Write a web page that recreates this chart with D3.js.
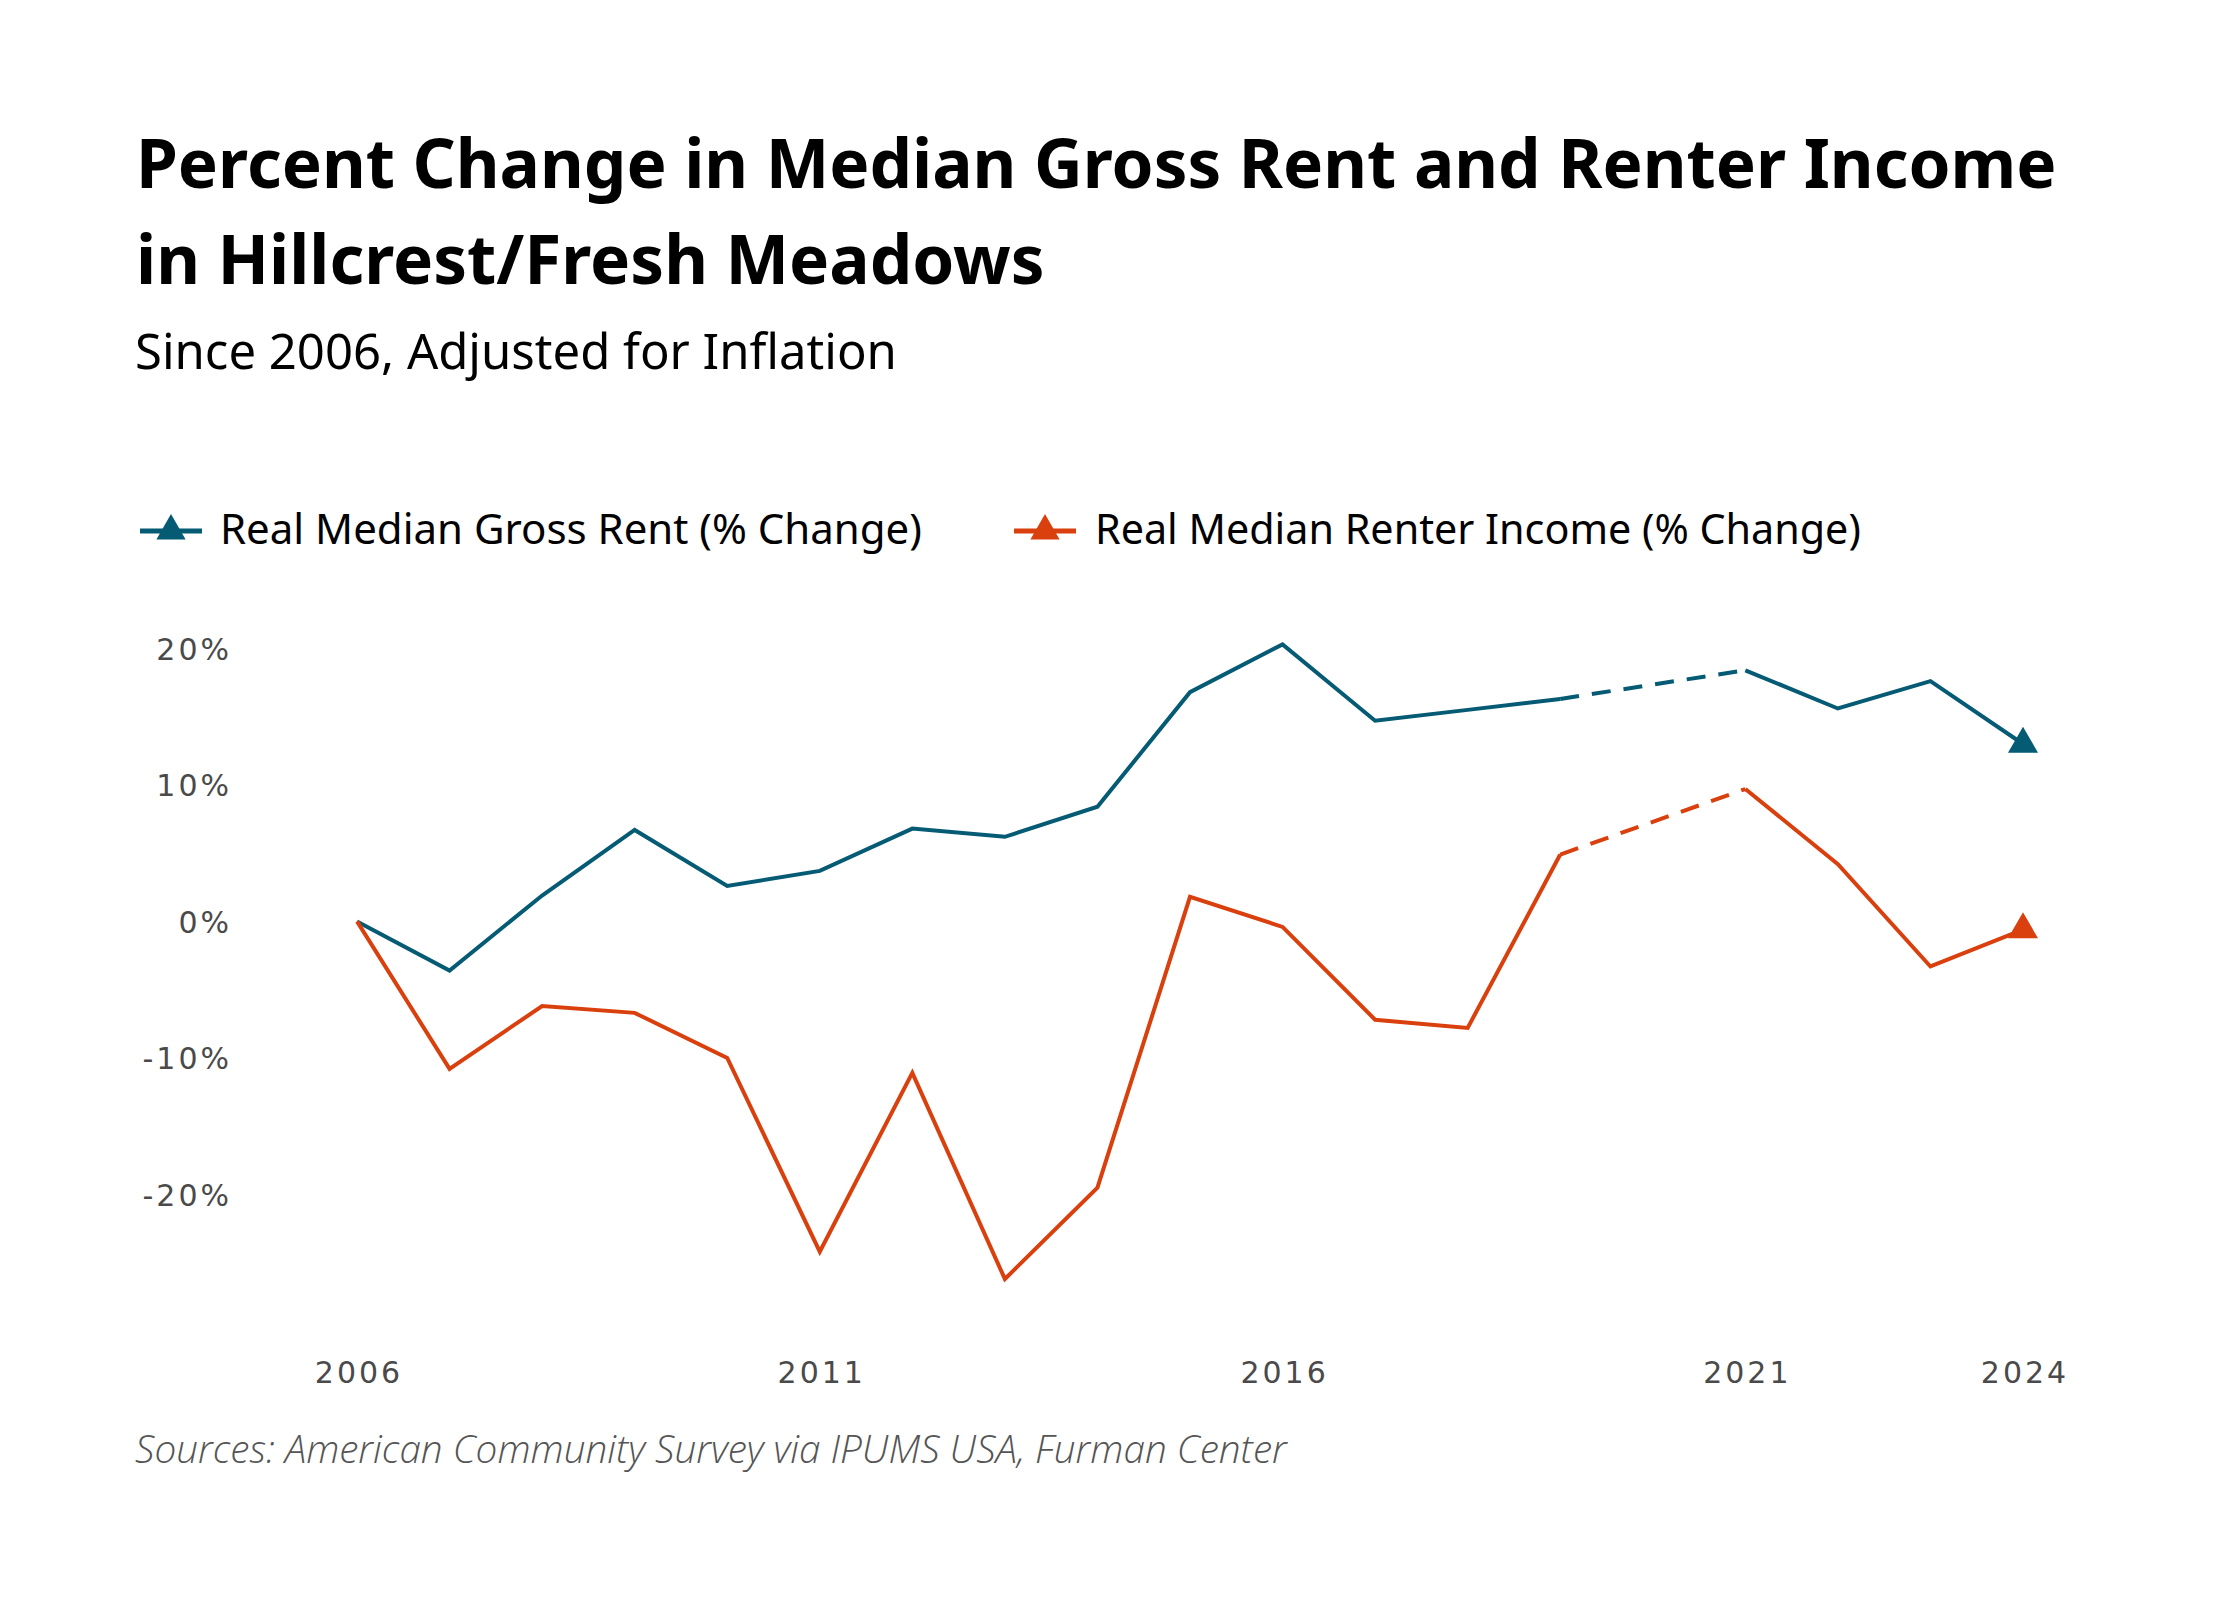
<!DOCTYPE html>
<html>
<head>
<meta charset="utf-8">
<script src="https://cdn.jsdelivr.net/npm/d3@7"></script>
<style>
  body { margin: 0; background: #fff; }
  svg { display: block; }
</style>
</head>
<body>
<svg id="chart" width="2240" height="1600"></svg>
<script>
// years with data (2020 is missing, bridged by a dashed segment)
const years = [2006, 2007, 2008, 2009, 2010, 2011, 2012, 2013, 2014, 2015, 2016, 2017, 2018, 2019, 2021, 2022, 2023, 2024]
const rentChange = [0, -3.6, 1.9, 6.7, 2.6, 3.7, 6.8, 6.2, 8.4, 16.8, 20.3, 14.7, 15.5, 16.3, 18.4, 15.6, 17.6, 13.0]
const incomeChange = [0, -10.8, -6.2, -6.7, -10.0, -24.2, -11.1, -26.2, -19.5, 1.8, -0.4, -7.2, -7.8, 4.9, 9.7, 4.2, -3.3, -0.6]

const seriesNames = ['Real Median Gross Rent (% Change)', 'Real Median Renter Income (% Change)']
const seriesColors = ['#055a74', '#d9400e']
const xTicks = [2006, 2011, 2016, 2021, 2024]
const yTicks = [20, 10, 0, -10, -20]

const titleLines = ['Percent Change in Median Gross Rent and Renter Income', 'in Hillcrest/Fresh Meadows']
const subtitle = 'Since 2006, Adjusted for Inflation'
const source = 'Sources: American Community Survey via IPUMS USA, Furman Center'

function drawChart() {
  const svg = d3.select('#chart')

  // shrink/grow a text's font size so it spans a given width
  function fitWidth(sel, target) {
    const fs = parseFloat(sel.style('font-size'))
    const w = sel.node().getComputedTextLength()
    sel.style('font-size', (fs * target / w) + 'px')
    return sel
  }

  // titles
  const t1 = svg.append('text')
    .attr('x', 136).attr('y', 188)
    .style('font-family', '"Noto Sans", "Open Sans", sans-serif')
    .style('font-weight', 700)
    .style('font-size', '64px')
    .attr('fill', '#000')
    .text(titleLines[0])
  fitWidth(t1, 1921)
  const titleSize = t1.style('font-size')

  svg.append('text')
    .attr('x', 136).attr('y', 284)
    .style('font-family', '"Noto Sans", "Open Sans", sans-serif')
    .style('font-weight', 700)
    .style('font-size', titleSize)
    .attr('fill', '#000')
    .text(titleLines[1])

  const sub = svg.append('text')
    .attr('x', 135).attr('y', 369)
    .style('font-family', '"Noto Sans", "Open Sans", sans-serif')
    .style('font-size', '46px')
    .attr('fill', '#000')
    .text(subtitle)
  fitWidth(sub, 762)

  // scales
  const x = d3.scaleLinear().domain([2006, 2024]).range([357, 2023])
  const y = d3.scaleLinear().domain([-30, 25]).range([1330.9, 580.2])

  const axisFont = '"DejaVu Sans", Lato, sans-serif'

  const yAxis = svg.append('g')
    .attr('transform', 'translate(232,0)')
    .call(d3.axisLeft(y).tickValues(yTicks).tickSize(0).tickPadding(0).tickFormat(d => d + '%'))
  yAxis.select('.domain').remove()
  yAxis.selectAll('text')
    .style('font-family', axisFont)
    .style('font-size', '30px')
    .style('letter-spacing', '3px')
    .attr('fill', '#4a4a4a')
    .attr('dy', '0.36em')

  const xAxis = svg.append('g')
    .attr('transform', 'translate(1.5,1383)')
    .call(d3.axisBottom(x).tickValues(xTicks).tickSize(0).tickPadding(0).tickFormat(d3.format('d')))
  xAxis.select('.domain').remove()
  xAxis.selectAll('text')
    .style('font-family', axisFont)
    .style('font-size', '30px')
    .style('letter-spacing', '3px')
    .attr('fill', '#4a4a4a')
    .attr('dy', 0)

  const lineMkr = d3.line()
    .x(d => x(d.year))
    .y(d => y(d.value))

  const series = [rentChange, incomeChange].map((vals, i) => ({
    name: seriesNames[i],
    color: seriesColors[i],
    points: years.map((yr, j) => ({ year: yr, value: vals[j] }))
  }))

  // break each series into runs: consecutive years solid, gaps dashed
  series.forEach(s => {
    const segs = []
    let run = [s.points[0]]
    for (let k = 1; k < s.points.length; k++) {
      const a = s.points[k - 1], b = s.points[k]
      if (b.year - a.year > 1) {
        segs.push({ pts: run, dashed: false })
        segs.push({ pts: [a, b], dashed: true })
        run = [b]
      } else {
        run.push(b)
      }
    }
    segs.push({ pts: run, dashed: false })

    const g = svg.append('g')
    g.selectAll('path')
      .data(segs)
      .join('path')
      .attr('d', d => lineMkr(d.pts))
      .attr('fill', 'none')
      .attr('stroke', s.color)
      .attr('stroke-width', 4)
      .attr('stroke-dasharray', d => d.dashed ? '19 13' : null)

    const last = s.points[s.points.length - 1]
    g.append('path')
      .attr('d', d3.symbol(d3.symbolTriangle, 390)())
      .attr('transform', `translate(${x(last.year)},${y(last.value)})`)
      .attr('fill', s.color)
  })

  // legend
  const legendX = [[140, 202, 220, 702], [1014, 1076, 1095, 766]]
  series.forEach((s, i) => {
    const [x0, x1, tx, tw] = legendX[i]
    const lg = svg.append('g')
    lg.append('line')
      .attr('x1', x0).attr('x2', x1)
      .attr('y1', 531).attr('y2', 531)
      .attr('stroke', s.color)
      .attr('stroke-width', 5)
    lg.append('path')
      .attr('d', d3.symbol(d3.symbolTriangle, 370)())
      .attr('transform', `translate(${(x0 + x1) / 2},${531})`)
      .attr('fill', s.color)
    const lt = lg.append('text')
      .attr('x', tx).attr('y', 544)
      .style('font-family', '"Noto Sans", "Open Sans", sans-serif')
      .style('font-size', '38px')
      .attr('fill', '#000')
      .text(s.name)
    fitWidth(lt, tw)
  })

  const src = svg.append('text')
    .attr('x', 135).attr('y', 1463)
    .style('font-family', '"Open Sans", "Noto Sans", sans-serif')
    .style('font-style', 'italic')
    .style('font-weight', 300)
    .style('font-size', '33px')
    .attr('fill', '#555')
    .text(source)
  fitWidth(src, 1152)
}

document.addEventListener('DOMContentLoaded', drawChart, false)
</script>
</body>
</html>
